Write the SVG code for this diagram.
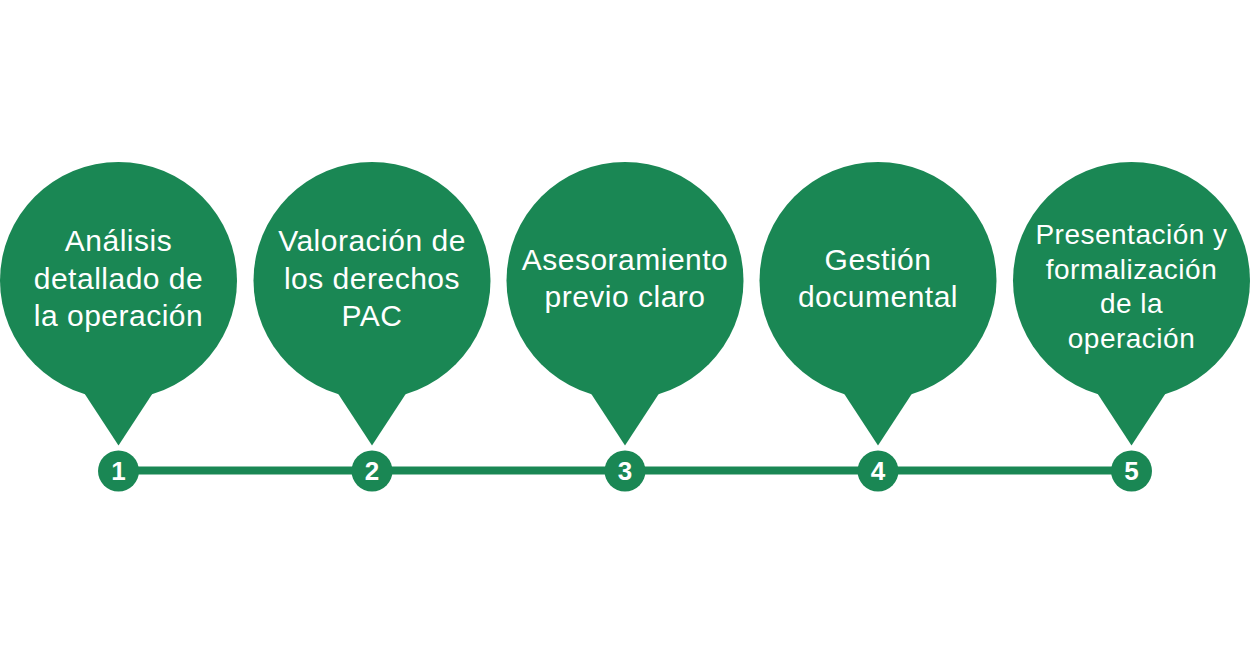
<svg xmlns="http://www.w3.org/2000/svg" width="1250" height="660" viewBox="0 0 1250 660">
<defs>
<style>
.pin{fill:#1a8754}
.dot{fill:#1a8754}
.lbl{fill:#fff;font-family:"Liberation Sans",Arial,sans-serif;font-size:30px;letter-spacing:0.5px;text-anchor:middle}
.lbl5{font-size:28px}
.num{fill:#fff;font-family:"Liberation Sans",Arial,sans-serif;font-size:26px;font-weight:bold;text-anchor:middle}
</style>
<g id="pinShape">
<circle cx="0" cy="0" r="118.5"/>
<path d="M-36,110 L36,110 L0,165 Z"/>
</g>
</defs>
<rect width="1250" height="660" fill="#fff"/>
<g id="connectors">
<line x1="118" y1="470.5" x2="1131" y2="470.5" stroke="#1a8754" stroke-width="8"/>
</g>
<g id="node1">
<use href="#pinShape" x="118.5" y="280.5" class="pin"/>
<text class="lbl" x="118.5" y="251">Análisis</text>
<text class="lbl" x="118.5" y="289">detallado de</text>
<text class="lbl" x="118.5" y="326">la operación</text>
<circle class="dot" cx="118.5" cy="471" r="20.5"/>
<text class="num" x="118.5" y="480">1</text>
</g>
<g id="node2">
<use href="#pinShape" x="372" y="280.5" class="pin"/>
<text class="lbl" x="372" y="251">Valoración de</text>
<text class="lbl" x="372" y="289">los derechos</text>
<text class="lbl" x="372" y="326">PAC</text>
<circle class="dot" cx="372" cy="471" r="20.5"/>
<text class="num" x="372" y="480">2</text>
</g>
<g id="node3">
<use href="#pinShape" x="625" y="280.5" class="pin"/>
<text class="lbl" x="625" y="270">Asesoramiento</text>
<text class="lbl" x="625" y="307">previo claro</text>
<circle class="dot" cx="625" cy="471" r="20.5"/>
<text class="num" x="625" y="480">3</text>
</g>
<g id="node4">
<use href="#pinShape" x="878" y="280.5" class="pin"/>
<text class="lbl" x="878" y="270">Gestión</text>
<text class="lbl" x="878" y="307">documental</text>
<circle class="dot" cx="878" cy="471" r="20.5"/>
<text class="num" x="878" y="480">4</text>
</g>
<g id="node5">
<use href="#pinShape" x="1131.5" y="280.5" class="pin"/>
<text class="lbl lbl5" x="1131.5" y="244">Presentación y</text>
<text class="lbl lbl5" x="1131.5" y="279">formalización</text>
<text class="lbl lbl5" x="1131.5" y="313">de la</text>
<text class="lbl lbl5" x="1131.5" y="348">operación</text>
<circle class="dot" cx="1131.5" cy="471" r="20.5"/>
<text class="num" x="1131.5" y="480">5</text>
</g>
</svg>
